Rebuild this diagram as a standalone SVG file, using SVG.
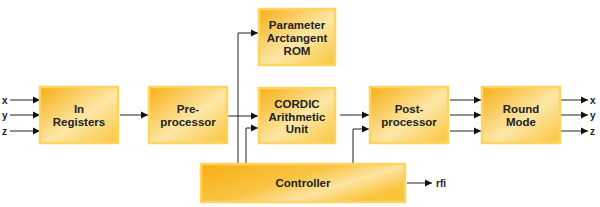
<svg xmlns="http://www.w3.org/2000/svg" width="600" height="207" viewBox="0 0 600 207">
<defs>
<linearGradient id="g" x1="0" y1="0" x2="1" y2="1">
<stop offset="0" stop-color="#F7AE14"/>
<stop offset="0.55" stop-color="#FDE7A6"/>
<stop offset="1" stop-color="#F9C43C"/>
</linearGradient>
<linearGradient id="gc" x1="0" y1="0" x2="1" y2="0.6">
<stop offset="0" stop-color="#F7AE14"/>
<stop offset="0.5" stop-color="#F9C443"/>
<stop offset="0.75" stop-color="#FDE4A0"/>
<stop offset="1" stop-color="#F9C43C"/>
</linearGradient>
<marker id="a" markerWidth="8" markerHeight="8" refX="7" refY="4" orient="auto" markerUnits="userSpaceOnUse">
<path d="M0,0.5 L7,4 L0,7.5 Z" fill="#111"/>
</marker>
</defs>
<style>
.box{fill:url(#g);stroke:#FDD460;stroke-width:2.5}
.t{font-family:"Liberation Sans",Arial,sans-serif;font-weight:bold;font-size:11.5px;fill:#222;text-anchor:middle}
.l{font-family:"Liberation Sans",Arial,sans-serif;font-weight:bold;font-size:10px;fill:#222}
.c{fill:none;stroke:#222;stroke-width:1}
</style>
<rect width="600" height="207" fill="#fff"/>
<g id="connectors">
<path class="c" d="M10,100 H40" marker-end="url(#a)"/>
<path class="c" d="M10,115 H40" marker-end="url(#a)"/>
<path class="c" d="M10,131 H40" marker-end="url(#a)"/>
<path class="c" d="M120,115 H148" marker-end="url(#a)"/>
<path class="c" d="M227,116 H258" marker-end="url(#a)"/>
<path class="c" d="M238,163 V33 H258" marker-end="url(#a)"/>
<path class="c" d="M246,163 V128 H258" marker-end="url(#a)"/>
<path class="c" d="M340,115 H369" marker-end="url(#a)"/>
<path class="c" d="M353,163 V129 H369" marker-end="url(#a)"/>
<path class="c" d="M450,100 H481" marker-end="url(#a)"/>
<path class="c" d="M450,115 H481" marker-end="url(#a)"/>
<path class="c" d="M450,131 H481" marker-end="url(#a)"/>
<path class="c" d="M561,100 H588" marker-end="url(#a)"/>
<path class="c" d="M561,115 H588" marker-end="url(#a)"/>
<path class="c" d="M561,131 H588" marker-end="url(#a)"/>
<path class="c" d="M407,183 H432" marker-end="url(#a)"/>
</g>
<g id="labels">
<text class="l" x="2" y="103.5">x</text>
<text class="l" x="2" y="118.5">y</text>
<text class="l" x="2" y="134.5">z</text>
<text class="l" x="590" y="103.5">x</text>
<text class="l" x="590" y="118.5">y</text>
<text class="l" x="590" y="134.5">z</text>
<text class="l" x="436" y="186.5">rfi</text>
</g>
<g id="in-registers">
<rect class="box" x="40" y="87" width="78" height="56"/>
<text class="t" x="79" y="112.5">In</text>
<text class="t" x="79" y="125.5">Registers</text>
</g>
<g id="pre-processor">
<rect class="box" x="149" y="87" width="78" height="56"/>
<text class="t" x="188" y="112.5">Pre-</text>
<text class="t" x="188" y="125.5">processor</text>
</g>
<g id="parameter-rom">
<rect class="box" x="259" y="9" width="76" height="56"/>
<text class="t" x="297" y="29">Parameter</text>
<text class="t" x="297" y="42">Arctangent</text>
<text class="t" x="297" y="55">ROM</text>
</g>
<g id="cordic">
<rect class="box" x="259" y="88" width="76" height="55"/>
<text class="t" x="297" y="107.5">CORDIC</text>
<text class="t" x="297" y="120.5">Arithmetic</text>
<text class="t" x="297" y="133">Unit</text>
</g>
<g id="post-processor">
<rect class="box" x="370" y="87" width="78" height="56"/>
<text class="t" x="409" y="112.5">Post-</text>
<text class="t" x="409" y="125.5">processor</text>
</g>
<g id="round-mode">
<rect class="box" x="482" y="87" width="78" height="56"/>
<text class="t" x="521" y="112.5">Round</text>
<text class="t" x="521" y="125.5">Mode</text>
</g>
<g id="controller">
<rect x="201" y="164" width="204" height="38" fill="url(#gc)" stroke="#FDD460" stroke-width="2.5"/>
<text class="t" x="303" y="187">Controller</text>
</g>
</svg>
